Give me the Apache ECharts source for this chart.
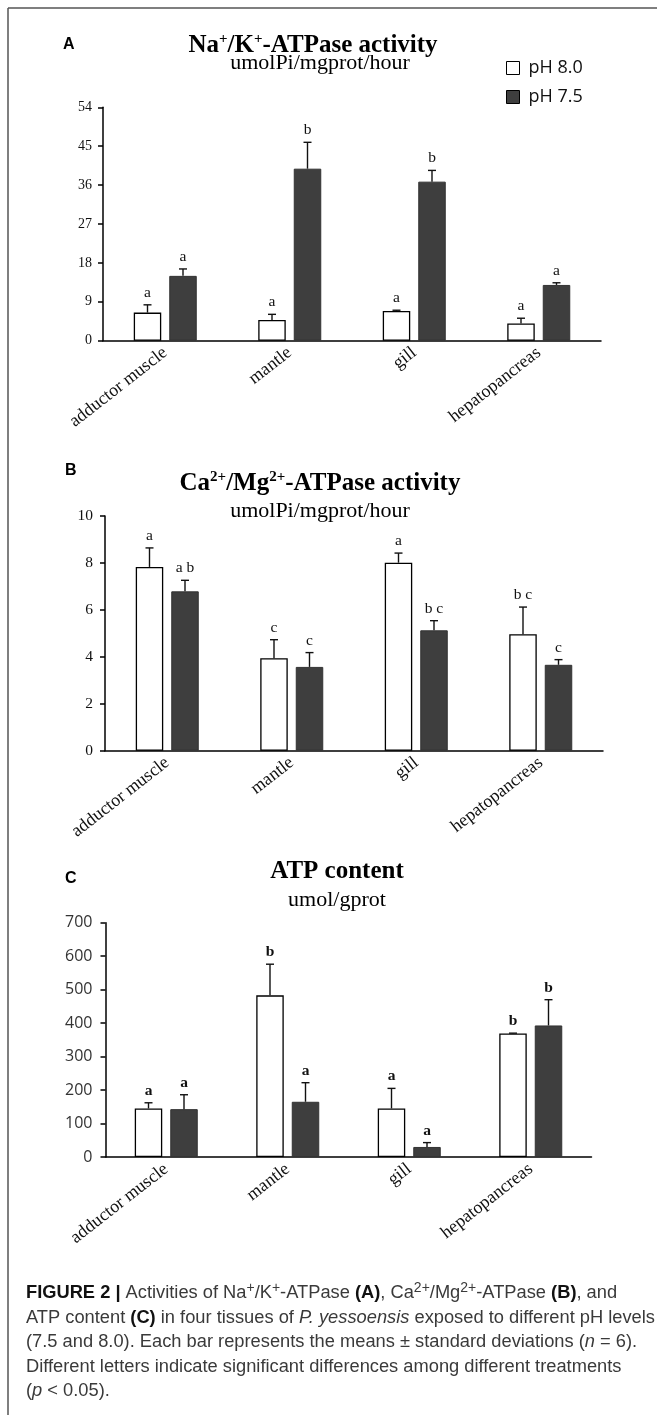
<!DOCTYPE html>
<html><head><meta charset="utf-8">
<script src="https://cdn.jsdelivr.net/npm/echarts@6/dist/echarts.min.js"></script>
<style>html,body{margin:0;padding:0;background:#fff;overflow:hidden}#c{width:657px;height:1415px}</style>
</head><body><div id="c"></div>
<script>
// ---------- data ----------
const tissues = ['adductor muscle', 'mantle', 'gill', 'hepatopancreas'];
const seriesNames = ['pH 8.0', 'pH 7.5'];

// Panel A: Na+/K+-ATPase activity (umolPi/mgprot/hour)
const naK_pH80 = [6.5, 4.8, 6.9, 4.0];
const naK_pH80_sd = [1.8, 1.3, 0.15, 1.2];
const naK_pH75 = [15.0, 39.8, 36.8, 12.9];
const naK_pH75_sd = [1.6, 6.1, 2.6, 0.5];
const naK_letters_pH80 = ['a', 'a', 'a', 'a'];
const naK_letters_pH75 = ['a', 'b', 'b', 'a'];
const naK_ticks = [0, 9, 18, 27, 36, 45, 54];

// Panel B: Ca2+/Mg2+-ATPase activity (umolPi/mgprot/hour)
const caMg_pH80 = [7.83, 3.94, 8.01, 4.96];
const caMg_pH80_sd = [0.81, 0.79, 0.41, 1.16];
const caMg_pH75 = [6.79, 3.57, 5.13, 3.66];
const caMg_pH75_sd = [0.47, 0.61, 0.41, 0.22];
const caMg_letters_pH80 = ['a', 'c', 'a', 'b c'];
const caMg_letters_pH75 = ['a b', 'c', 'b c', 'c'];
const caMg_ticks = [0, 2, 4, 6, 8, 10];

// Panel C: ATP content (umol/gprot)
const atp_pH80 = [145, 483, 145, 369];
const atp_pH80_sd = [17, 93, 60, 1];
const atp_pH75 = [143, 165, 30, 393];
const atp_pH75_sd = [43, 57, 13, 77];
const atp_letters_pH80 = ['a', 'b', 'a', 'b'];
const atp_letters_pH75 = ['a', 'a', 'a', 'b'];
const atp_ticks = [0, 100, 200, 300, 400, 500, 600, 700];

// ---------- styles ----------
const SERIF = '"Liberation Serif", "Times New Roman", serif';
const SANS = '"Liberation Sans", Arial, sans-serif';
const OPEN = '"Open Sans", "Liberation Sans", sans-serif';
const BAR_W = 27.5, BAR_GAP = 8;
const OFF = (BAR_W + BAR_GAP) / 2;

const grids = [
  {left: 103, top: 107.3, width: 498, height: 233.4},
  {left: 105, top: 516, width: 498, height: 234.7},
  {left: 105.5, top: 922.7, width: 486, height: 234.3}
];
const tickSets = [naK_ticks, caMg_ticks, atp_ticks];
const yLabelStyles = [
  {fontFamily: SERIF, fontSize: 14, color: '#111', margin: 11},
  {fontFamily: SERIF, fontSize: 15.5, color: '#111', margin: 12},
  {fontFamily: OPEN, fontSize: 16, color: '#333', margin: 13}
];
const panels = [
  {a: naK_pH80, asd: naK_pH80_sd, b: naK_pH75, bsd: naK_pH75_sd, la: naK_letters_pH80, lb: naK_letters_pH75, bold: false},
  {a: caMg_pH80, asd: caMg_pH80_sd, b: caMg_pH75, bsd: caMg_pH75_sd, la: caMg_letters_pH80, lb: caMg_letters_pH75, bold: false},
  {a: atp_pH80, asd: atp_pH80_sd, b: atp_pH75, bsd: atp_pH75_sd, la: atp_letters_pH80, lb: atp_letters_pH75, bold: true}
];

function errRender(letters, offset, bold) {
  return function (params, api) {
    const k = api.value(0), m = api.value(1), s = api.value(2);
    const base = api.coord([k, m]);
    const top = api.coord([k, m + s]);
    const x = base[0] + offset;
    const ch = [];
    if (s > 0) {
      ch.push({type: 'line', shape: {x1: x, y1: base[1], x2: x, y2: top[1]}, style: {stroke: '#111', lineWidth: 1.4}});
      ch.push({type: 'line', shape: {x1: x - 4, y1: top[1], x2: x + 4, y2: top[1]}, style: {stroke: '#111', lineWidth: 1.4}});
    }
    ch.push({type: 'text', x: x, y: top[1] - 12, style: {
      text: letters[params.dataIndex], x: 0, y: 0,
      align: 'center', verticalAlign: 'middle',
      fontFamily: SERIF, fontSize: 15.5, fontWeight: bold ? 'bold' : 'normal', fill: '#111'}});
    return {type: 'group', children: ch};
  };
}

const xAxes = [], yAxes = [], series = [];
grids.forEach((g, i) => {
  xAxes.push({
    type: 'category', gridIndex: i, data: tissues,
    axisLine: {lineStyle: {color: '#000', width: 1.5}},
    axisTick: {length: 5, lineStyle: {color: '#000', width: 1.5}},
    axisLabel: {interval: 0, rotate: 38, margin: 10, fontFamily: SERIF, fontSize: 18, color: '#111'}
  });
  const t = tickSets[i];
  yAxes.push({
    type: 'value', gridIndex: i, min: t[0], max: t[t.length - 1], interval: t[1] - t[0],
    axisLine: {show: true, lineStyle: {color: '#000', width: 1.5}},
    axisTick: {show: true, length: 5, lineStyle: {color: '#000', width: 1.5}},
    splitLine: {show: false},
    axisLabel: yLabelStyles[i]
  });
  const p = panels[i];
  series.push({
    name: seriesNames[0], type: 'bar', xAxisIndex: i, yAxisIndex: i, data: p.a,
    barWidth: BAR_W, barGap: (BAR_GAP / BAR_W * 100) + '%',
    itemStyle: {color: '#ffffff', borderColor: '#000', borderWidth: 1.3}, silent: true
  });
  series.push({
    name: seriesNames[1], type: 'bar', xAxisIndex: i, yAxisIndex: i, data: p.b,
    barWidth: BAR_W, barGap: (BAR_GAP / BAR_W * 100) + '%',
    itemStyle: {color: '#3e3e3e', borderColor: '#333', borderWidth: 1}, silent: true
  });
  series.push({
    type: 'custom', xAxisIndex: i, yAxisIndex: i, z: 5, clip: false, silent: true,
    data: p.a.map((v, k) => [k, v, p.asd[k]]),
    renderItem: errRender(p.la, -OFF, p.bold)
  });
  series.push({
    type: 'custom', xAxisIndex: i, yAxisIndex: i, z: 5, clip: false, silent: true,
    data: p.b.map((v, k) => [k, v, p.bsd[k]]),
    renderItem: errRender(p.lb, OFF, p.bold)
  });
});

function txt(x, y, text, style) {
  return {type: 'text', x: x, y: y, silent: true, style: Object.assign({text: text, x: 0, y: 0}, style)};
}
const titleStyle = {
  fontFamily: SERIF, fontSize: 25, fontWeight: 'bold', fill: '#000', align: 'center', verticalAlign: 'middle', lineHeight: 28,
  rich: {sup: {fontFamily: SERIF, fontSize: 15, fontWeight: 'bold', fill: '#000', lineHeight: 16, verticalAlign: 'top'}}
};
const subStyle = {fontFamily: SERIF, fontSize: 22, fill: '#000', align: 'center', verticalAlign: 'middle'};
const letterStyle = {fontFamily: SANS, fontSize: 16, fontWeight: 'bold', fill: '#000', align: 'left', verticalAlign: 'middle'};

const caption =
  '{b|FIGURE 2 |} Activities of Na{sup|+}/K{sup|+}-ATPase {b|(A)}, Ca{sup|2+}/Mg{sup|2+}-ATPase {b|(B)}, and\n' +
  'ATP content {b|(C)} in four tissues of {i|P. yessoensis} exposed to different pH levels\n' +
  '(7.5 and 8.0). Each bar represents the means \u00b1 standard deviations ({i|n} = 6).\n' +
  'Different letters indicate significant differences among different treatments\n' +
  '({i|p} < 0.05).';

const graphics = [
  {type: 'line', silent: true, shape: {x1: 8, y1: 8, x2: 657, y2: 8}, style: {stroke: '#555', lineWidth: 1.5}},
  {type: 'line', silent: true, shape: {x1: 8, y1: 8, x2: 8, y2: 1415}, style: {stroke: '#555', lineWidth: 1.5}},
  txt(63, 45, 'A', letterStyle),
  txt(65, 471, 'B', letterStyle),
  txt(65, 879, 'C', letterStyle),
  txt(313, 46, 'Na{sup|+}/K{sup|+}-ATPase activity', titleStyle),
  txt(320, 63, 'umolPi/mgprot/hour', subStyle),
  txt(320, 484, 'Ca{sup|2+}/Mg{sup|2+}-ATPase activity', titleStyle),
  txt(320, 511, 'umolPi/mgprot/hour', subStyle),
  txt(337, 872, 'ATP content', titleStyle),
  txt(337, 900, 'umol/gprot', subStyle),
  txt(26, 1281, caption, {
    fontFamily: SANS, fontSize: 18.3, fill: '#3a3a3a', align: 'left', verticalAlign: 'top', lineHeight: 24.5,
    rich: {
      b: {fontFamily: SANS, fontSize: 18.3, fontWeight: 'bold', fill: '#111', lineHeight: 24.5},
      i: {fontFamily: SANS, fontSize: 18.3, fontStyle: 'italic', fill: '#3a3a3a', lineHeight: 24.5},
      sup: {fontFamily: SANS, fontSize: 14, fill: '#3a3a3a', lineHeight: 16, verticalAlign: 'top'}
    }
  })
];

const chart = echarts.init(document.getElementById('c'), null, {renderer: 'canvas'});
chart.setOption({
  animation: false,
  backgroundColor: '#fff',
  grid: grids.map(g => Object.assign({outerBoundsMode: 'none', containLabel: false}, g)),
  xAxis: xAxes,
  yAxis: yAxes,
  legend: {
    data: seriesNames, orient: 'vertical', left: 501, top: 53, itemWidth: 13, itemHeight: 13, itemGap: 9,
    icon: 'rect', selectedMode: false,
    itemStyle: {borderColor: '#000', borderWidth: 1},
    textStyle: {fontFamily: OPEN, fontSize: 18, lineHeight: 20, color: '#111', padding: [0, 0, 0, 4]}
  },
  series: series,
  graphic: graphics
});
</script>
</body></html>
